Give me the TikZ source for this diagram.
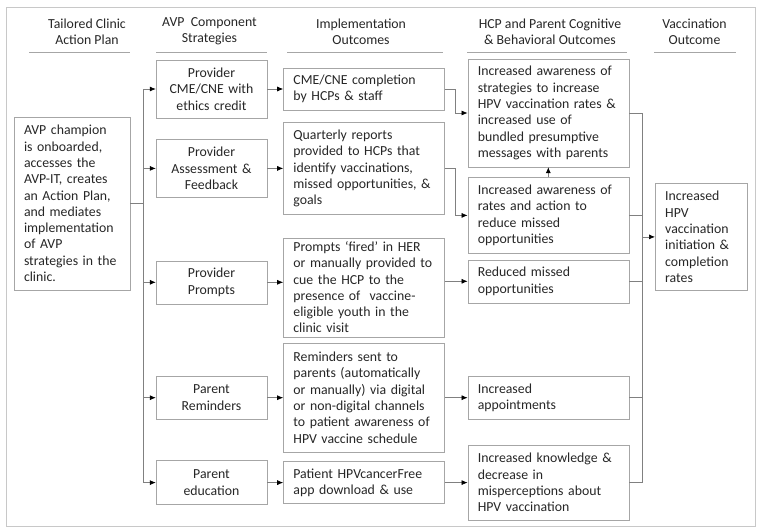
\documentclass[tikz,border=0pt]{standalone}
\usepackage{fontspec}
\setmainfont{Carlito}
\usepackage{tikz}
\usepackage{xcolor}
\usetikzlibrary{positioning}
\usetikzlibrary{arrows.meta}
\definecolor{boxgray}{HTML}{A6A6A6}
\definecolor{linkgray}{HTML}{808080}
\definecolor{framegray}{HTML}{C8C8C8}
\definecolor{textgray}{HTML}{262626}
\newcommand{\boxfont}{\fontsize{13.8}{16.3}\selectfont}
\tikzstyle{plan} = [rectangle, draw=boxgray, text=textgray, align=left, text width=96pt, inner xsep=10pt, inner ysep=0pt, minimum height=173pt, font=\boxfont]
\tikzstyle{strategy} = [rectangle, draw=boxgray, text=textgray, align=center, text width=91pt, inner xsep=10pt, inner ysep=0pt, font=\boxfont]
\tikzstyle{outcome} = [rectangle, draw=boxgray, text=textgray, align=left, text width=141pt, inner xsep=10pt, inner ysep=0pt, font=\boxfont]
\tikzstyle{result} = [rectangle, draw=boxgray, text=textgray, align=left, text width=72pt, inner xsep=10pt, inner ysep=0pt, minimum height=107pt, font=\boxfont]
\tikzstyle{heading} = [align=center, text=textgray, font=\boxfont]
\tikzstyle{headrule} = [draw=boxgray, line width=1pt]
\tikzstyle{link} = [draw=linkgray, line width=0.7pt]
\tikzstyle{arrow} = [draw=linkgray, line width=0.7pt, -{Latex[length=6pt,width=5pt,color=black]}]

\begin{document}
\begin{tikzpicture}[x=1pt, y=-1pt]
        \useasboundingbox (0,0) rectangle (760,530);
        \draw [framegray, line width=1pt] (6,7) rectangle (755,526);

        % column headings
        \node (hplan) [heading] at (87,31.5) {Tailored Clinic\\Action Plan};
        \node (hstrat) [heading] at (209.5,31.5) {AVP\ \ Component\\Strategies};
        \node (himpl) [heading] at (361,31.5) {Implementation\\Outcomes};
        \node (hcog) [heading] at (550,31.5) {HCP and Parent Cognitive\\\& Behavioral Outcomes};
        \node (hvacc) [heading] at (694.5,31.5) {Vaccination\\Outcome};
        \draw [headrule] (29,52) -- (130,52);
        \draw [headrule] (156,52) -- (267,52);
        \draw [headrule] (287,52) -- (443,52);
        \draw [headrule] (467,52) -- (627,52);
        \draw [headrule] (654,52) -- (736,52);

        % action plan
        \node (champ) [plan] at (72,203.5) {AVP champion\\is onboarded,\\accesses the\\AVP-IT, creates\\an Action Plan,\\and mediates\\implementation\\of AVP\\strategies in the\\clinic.};

        % component strategies
        \node (cme) [strategy, minimum height=58pt] at (211.5,89) {Provider\\CME/CNE with\\ethics credit};
        \node (assess) [strategy, minimum height=58pt, below=21pt of cme] {Provider\\Assessment \&\\Feedback};
        \node (prompts) [strategy, minimum height=43pt, below=63pt of assess] {Provider\\Prompts};
        \node (remind) [strategy, minimum height=43pt, below=72pt of prompts] {Parent\\Reminders};
        \node (educ) [strategy, minimum height=44pt, below=41pt of remind] {Parent\\education};

        % implementation outcomes
        \node (compl) [outcome, minimum height=42pt, right=16pt of cme] {CME/CNE completion\\by HCPs \& staff};
        \node (reports) [outcome, minimum height=92pt, right=16pt of assess] {Quarterly reports\\provided to HCPs that\\identify vaccinations,\\missed opportunities, \&\\goals};
        \node (fired) [outcome, minimum height=99pt, right=16pt of prompts, yshift=-5pt] {Prompts ‘fired’ in HER\\or manually provided to\\cue the HCP to the\\presence of\ \ vaccine-\\eligible youth in the\\clinic visit};
        \node (sent) [outcome, minimum height=109pt, right=16pt of remind] {Reminders sent to\\parents (automatically\\or manually) via digital\\or non-digital channels\\to patient awareness of\\HPV vaccine schedule};
        \node (app) [outcome, minimum height=42pt, right=16pt of educ] {Patient HPVcancerFree\\app download \& use};

        % cognitive and behavioral outcomes
        \node (aware) [outcome, minimum height=108pt, right=23pt of compl, yshift=-24pt] {Increased awareness of\\strategies to increase\\HPV vaccination rates \&\\increased use of\\bundled presumptive\\messages with parents};
        \node (rates) [outcome, minimum height=76pt, below=10pt of aware] {Increased awareness of\\rates and action to\\reduce missed\\opportunities};
        \node (missed) [outcome, minimum height=43pt, below=6pt of rates] {Reduced missed\\opportunities};
        \node (appoint) [outcome, minimum height=43pt, right=23pt of sent] {Increased\\appointments};
        \node (knowl) [outcome, minimum height=75pt, right=23pt of app] {Increased knowledge \&\\decrease in\\misperceptions about\\HPV vaccination};

        % vaccination outcome
        \node (vacc) [result, right=26pt of rates, yshift=-21.5pt] {Increased\\HPV\\vaccination\\initiation \&\\completion\\rates};

        \coordinate [right=13pt of champ.east] (split);
        \coordinate [left=13pt of vacc.west] (merge);

        \draw [link] (champ.east) -- (split);
        \foreach \s in {cme,assess,prompts,remind,educ}
            \draw [arrow] (split) |- (\s.west);

        \draw [arrow] (cme) -- (compl);
        \draw [arrow] (assess) -- (reports);
        \draw [arrow] (prompts.east) -- (prompts.east -| fired.west);
        \draw [arrow] (remind) -- (sent);
        \draw [arrow] (educ) -- (app);

        \draw [arrow] (compl.east) -- ++(11pt,0) |- (aware.west);
        \draw [arrow] (reports.east) -- ++(11pt,0) |- (rates.west);
        \draw [arrow] (rates) -- (aware);
        \draw [arrow] (missed.west -| fired.east) -- (missed.west);
        \draw [arrow] (sent) -- (appoint);
        \draw [arrow] (app) -- (knowl);

        \foreach \o in {aware,rates,missed,appoint,knowl}
            \draw [link] (\o.east) -| (merge);
        \draw [arrow] (merge) -- (vacc.west);
    \end{tikzpicture}
\end{document}
